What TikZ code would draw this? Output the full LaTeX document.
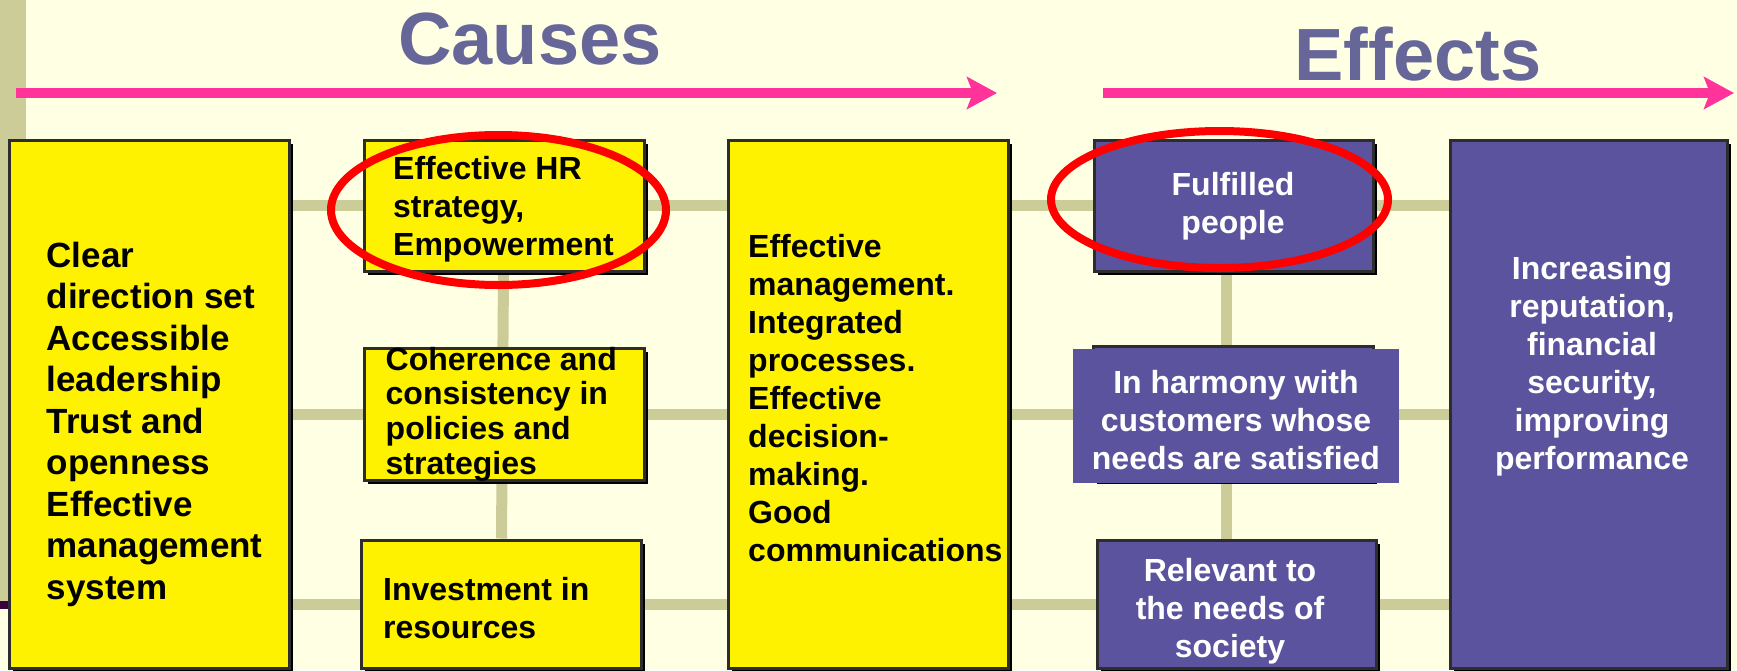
\documentclass[tikz,border=0pt]{standalone}
\usepackage{fontspec}
\setmainfont{Liberation Sans}
\usetikzlibrary{arrows.meta,shadows,backgrounds}

\definecolor{cream}{RGB}{255,255,228}
\definecolor{khaki}{RGB}{204,204,153}
\definecolor{slate}{RGB}{102,102,153}
\definecolor{pinkline}{RGB}{255,51,153}
\definecolor{boxpurple}{RGB}{91,83,158}
\definecolor{boxedge}{RGB}{45,45,45}
\definecolor{darkplum}{RGB}{60,0,60}

\begin{document}
\begin{tikzpicture}[x=1pt,y=-1pt]
    \tikzstyle{B}=[rectangle,draw=boxedge,line width=3pt,drop shadow={shadow xshift=3.5pt,shadow yshift=-3.5pt,fill=black,opacity=1}]
    \tikzstyle{Y}=[B,fill=yellow]
    \tikzstyle{P}=[B,fill=boxpurple]
    \tikzstyle{G}=[line width=11pt,color=khaki]
    \tikzstyle{A}=[line width=10pt,color=pinkline,-{Stealth[length=30pt,width=32pt,inset=6pt]}]
    \tikzstyle{H}=[line width=8pt,color=red]
    \tikzstyle{T}=[inner sep=0pt,font=\bfseries\fontsize{32}{38}\selectfont]
    \tikzstyle{W}=[T,color=white,align=center]
    \tikzstyle{K}=[font=\bfseries\fontsize{74}{88}\selectfont,color=slate,anchor=base]

   \useasboundingbox (0,0) rectangle (1737,670);

   % boxes
   \node [Y,minimum width=280,minimum height=528] (b1) at (149,404) {};
   \node [Y,minimum width=280,minimum height=131] (b2) at (504,205.5) {};
   \node [Y,minimum width=280,minimum height=132] (b3) at (504,414) {};
   \node [Y,minimum width=280,minimum height=128] (b4) at (501,604) {};
   \node [Y,minimum width=280,minimum height=528] (b5) at (868,404) {};
   \node [P,minimum width=279,minimum height=131] (b6) at (1233.5,205.5) {};
   \node [P,minimum width=280,minimum height=134] (b7back) at (1233,413) {};
   \node [rectangle,fill=boxpurple,minimum width=326,minimum height=134] (b7) at (1236,416) {};
   \node [P,minimum width=279,minimum height=128] (b8) at (1236.5,604) {};
   \node [P,minimum width=277,minimum height=528] (b9) at (1588.5,404) {};

   \node [T,align=left,anchor=west,font=\bfseries\fontsize{35}{41.5}\selectfont] (t1) at (46.5,424)
      {Clear\\direction set\\Accessible\\leadership\\Trust and\\openness\\Effective\\management\\system};
   \node [T,align=left,anchor=west] (t2) at (393,209)
      {Effective HR\\strategy,\\Empowerment};
   \node [T,align=left,anchor=west,font=\bfseries\fontsize{32}{34.7}\selectfont] (t3) at (385.5,414)
      {Coherence and\\consistency in\\policies and\\strategies};
   \node [T,align=left,anchor=west] (t4) at (383,608)
      {Investment in\\resources};
   \node [T,align=left,anchor=west] (t5) at (748,398)
      {Effective\\management.\\Integrated\\processes.\\Effective\\decision-\\making.\\Good\\communications};
   \node [W] (t6) at (1233,206) {Fulfilled\\people};
   \node [W] (t7) at (1236,420) {In harmony with\\customers whose\\needs are satisfied};
   \node [W] (t8) at (1230,611) {Relevant to\\the needs of\\society};
   \node [W] (t9) at (1592,366) {Increasing\\reputation,\\financial\\security,\\improving\\performance};

   \begin{pgfonlayer}{background}
   \fill [cream] (0,0) rectangle (1737,670);
   \fill [khaki] (0,0) rectangle (26,601);
   \fill [darkplum] (0,601) rectangle (26,609);
   \draw [G] (b1.east |- b2) -- (b9.west |- b2);
   \draw [G] (b1.east |- b3) -- (b9.west |- b3);
   \draw [G] (b1.east |- b4) -- (b9.west |- b4);
   \draw [G] (b2) -- (b4);
   \draw [G] ([xshift=-7.5pt]b6.south) -- ([xshift=-7.5pt]b6.south |- b8.north);
   \end{pgfonlayer}

   % titles and arrows
   \node [K] (causes) at (530,64) {Causes};
   \node [K] (effects) at (1418,80) {Effects};
   \coordinate (a1) at (16,93);
   \coordinate (a2) at (997,93);
   \coordinate (a3) at (1103,93);
   \coordinate (a4) at (1734,93);
   \draw [A] (a1) -- (a2);
   \draw [A] (a3) -- (a4);

   \draw [H] (498.5,210) ellipse [x radius=167.5pt, y radius=75pt];
   \draw [H] (1219.5,199.5) ellipse [x radius=168.5pt, y radius=68.5pt];
\end{tikzpicture}
\end{document}
